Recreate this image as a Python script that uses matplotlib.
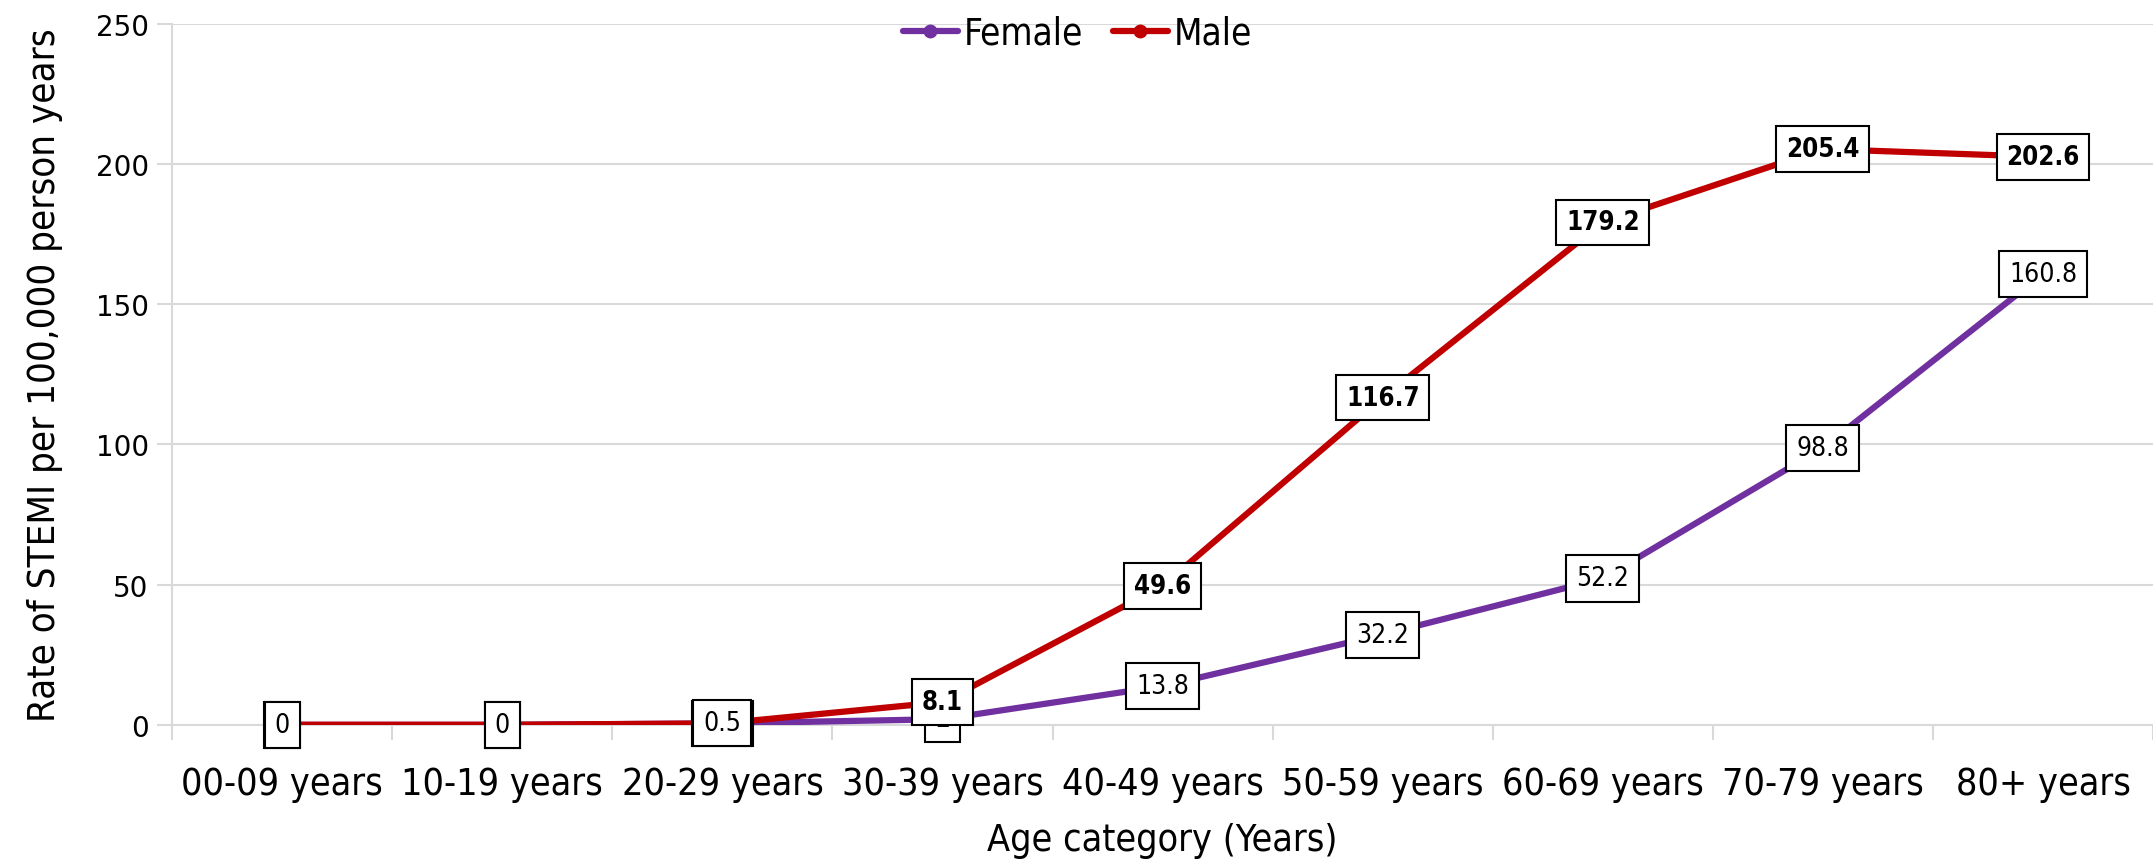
import matplotlib.pyplot as plt
from matplotlib import font_manager

age_groups = ["00-09 years", "10-19 years", "20-29 years", "30-39 years", "40-49 years",
              "50-59 years", "60-69 years", "70-79 years", "80+ years"]
female = [0, 0, 0.5, 2, 13.8, 32.2, 52.2, 98.8, 160.8]
male = [0, 0, 0.5, 8.1, 49.6, 116.7, 179.2, 205.4, 202.6]
female_labels = ["0", "0", "0.5", "2", "13.8", "32.2", "52.2", "98.8", "160.8"]
male_labels = ["0", "0", "0.5", "8.1", "49.6", "116.7", "179.2", "205.4", "202.6"]
y_ticks = [0, 50, 100, 150, 200, 250]

# narrow look of the original: DejaVu Sans Condensed if it is there
has_cond = any(f.name == "DejaVu Sans" and "condensed" in str(f.stretch)
               for f in font_manager.fontManager.ttflist)
plt.rcParams['font.family'] = ['DejaVu Sans']
if has_cond:
    plt.rcParams['font.stretch'] = 'condensed'
    k = 1.0
else:
    k = 0.9

purple = "#7030A0"
red = "#C00000"
grid_c = "#D9D9D9"

fig = plt.figure(figsize=(21.53, 8.62), dpi=100)
ax = fig.add_axes([0.080, 0.158, 0.920, 0.813])

x = list(range(len(age_groups)))
ax.plot(x, female, color=purple, lw=4.5, marker="o", ms=9, label="Female", zorder=3,
        solid_capstyle="round")
ax.plot(x, male, color=red, lw=4.5, marker="o", ms=9, label="Male", zorder=3,
        solid_capstyle="round")

box = dict(boxstyle="square,pad=0.38", fc="white", ec="black", lw=1.5)
for i in x:
    # female labels of the first points sit on top of the identical male ones
    fz = 6 if female[i] < 1 else 4
    ax.text(i, female[i], female_labels[i], ha="center", va="center", fontsize=19 * k,
            bbox=box, zorder=fz)
    ax.text(i, male[i], male_labels[i], ha="center", va="center", fontsize=18.5 * k,
            fontweight="bold", bbox=box, zorder=5)

ax.set_xlim(-0.5, len(age_groups) - 0.5)
ax.set_ylim(0, 250)
ax.set_yticks(y_ticks)
ax.set_yticklabels([str(v) for v in y_ticks], fontsize=20, fontstretch="normal")
ax.set_xticks(x)
ax.set_xticklabels(age_groups, fontsize=27 * k)
ax.set_xticks([v - 0.5 for v in range(len(age_groups) + 1)], minor=True)
ax.tick_params(axis="x", which="major", length=0, pad=30)
ax.tick_params(axis="x", which="minor", length=11, color=grid_c, width=1.5)
ax.tick_params(axis="y", length=11, color=grid_c, width=1.5, pad=6)

ax.grid(axis="y", color=grid_c, lw=1.5, zorder=0)
for s in ["top", "right"]:
    ax.spines[s].set_visible(False)
ax.spines["left"].set_color(grid_c)
ax.spines["bottom"].set_color(grid_c)
ax.spines["left"].set_linewidth(1.5)
ax.spines["bottom"].set_linewidth(1.5)

ax.set_xlabel("Age category (Years)", fontsize=27 * k, labelpad=14)
ax.set_ylabel("Rate of STEMI per 100,000 person years", fontsize=27.5 * k)
ax.yaxis.set_label_coords(-0.055, 0.5)

ax.legend(loc="center", bbox_to_anchor=(0.457, 0.987), ncol=2, frameon=False,
          fontsize=26.5 * k, handlelength=1.5, columnspacing=0.8, handletextpad=0.16)

fig.savefig("out.png", dpi=100)
